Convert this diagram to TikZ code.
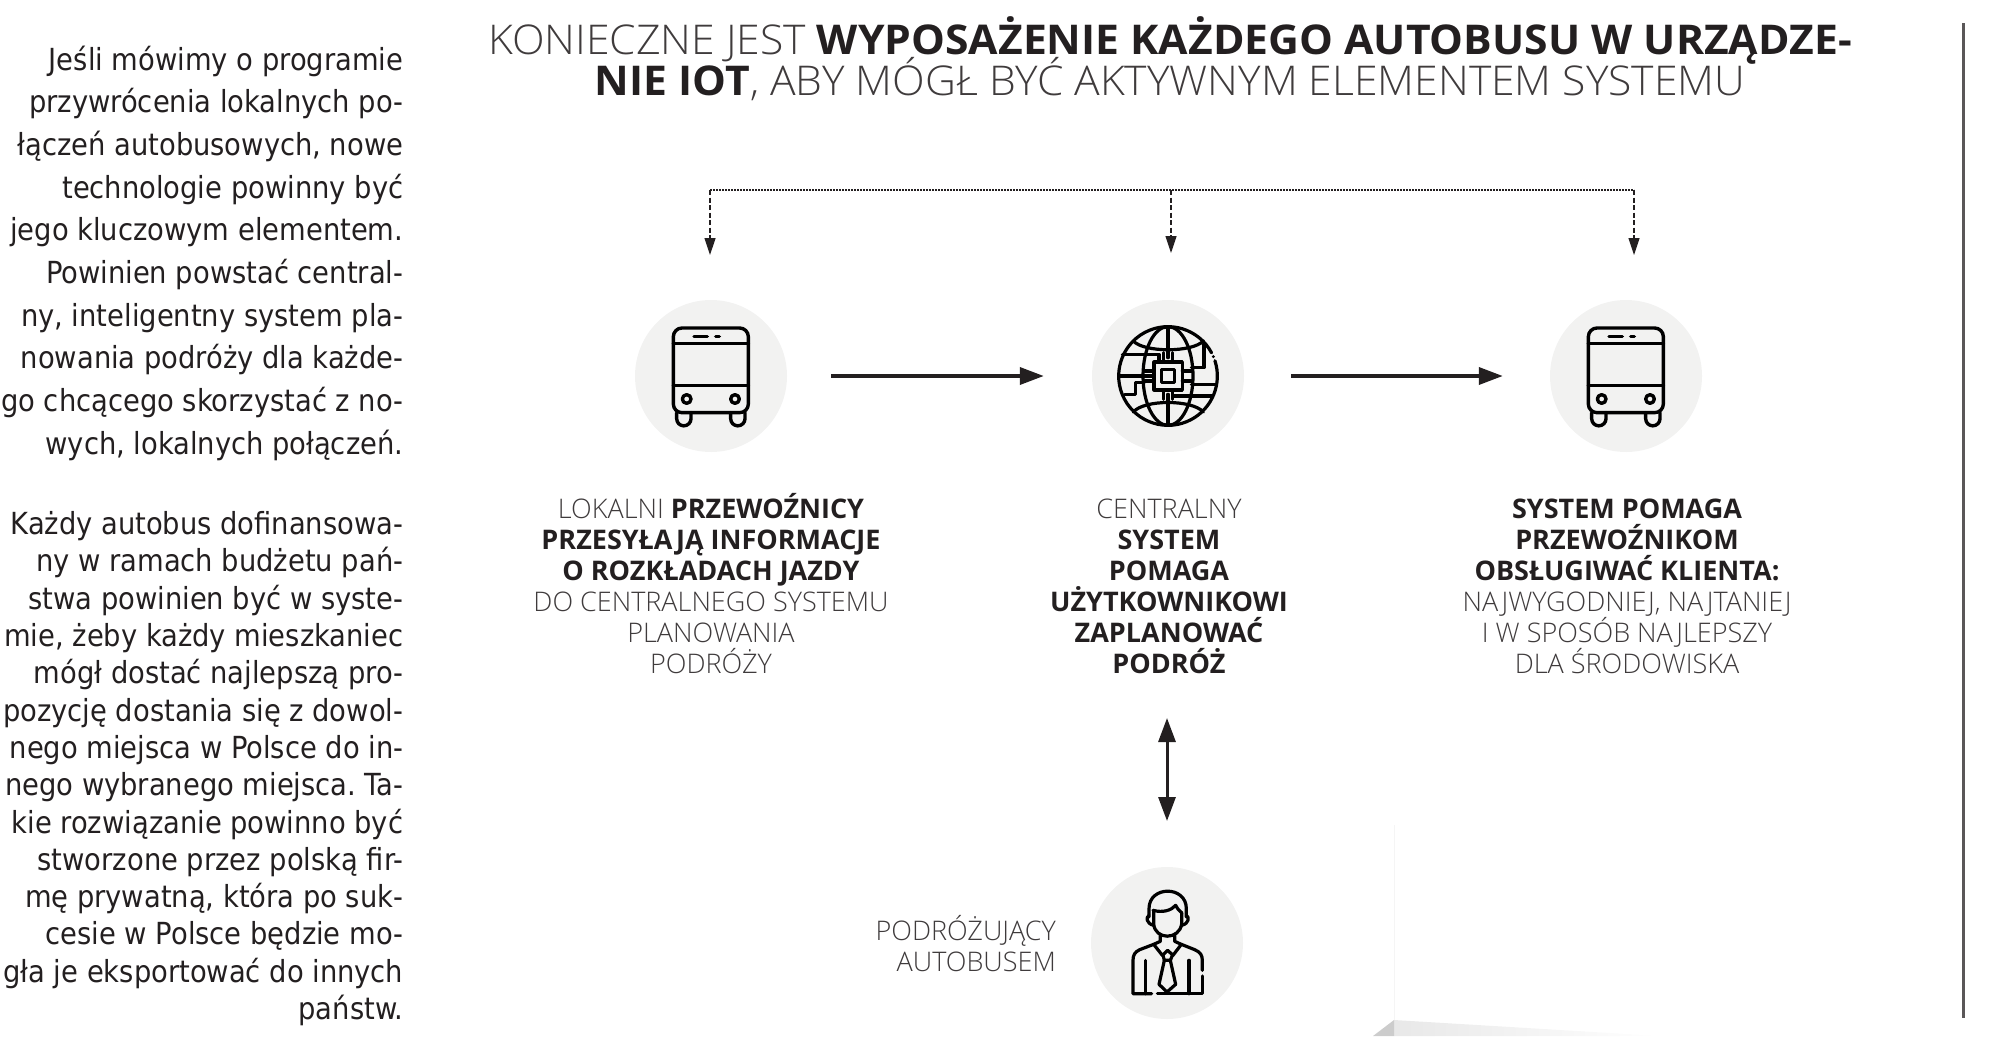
\documentclass[tikz,border=0pt]{standalone}
\usepackage{fontspec}
\usepackage{graphicx}
\usetikzlibrary{arrows.meta}
\setmainfont{Open Sans}
\newfontfamily\oslight{Open Sans Light}
\newfontfamily\djv{DejaVu Sans Condensed}
\definecolor{ink}{HTML}{231F20}
\definecolor{lighttext}{HTML}{3F3B3C}
\definecolor{disc}{HTML}{F2F2F1}
\frenchspacing
\tikzset{
  discnode/.style={circle,fill=disc,minimum size=152pt,inner sep=0pt},
  body/.style={font=\djv\fontsize{30.4}{30.4}\selectfont,text=ink,anchor=base east,inner sep=0pt},
  lab/.style={font=\fontsize{27}{27}\selectfont,text=ink,anchor=base,inner sep=0pt},
  ttl/.style={font=\fontsize{41}{41}\selectfont,text=ink,anchor=base,inner sep=0pt},
  flow/.style={draw=ink,line width=3.6pt,-{Triangle[length=24pt,width=17pt]}},
  dashv/.style={draw=ink,line width=1.2pt,dash pattern=on 5pt off 2.5pt,-{Triangle[length=17pt,width=11pt]}},
  dashh/.style={draw=ink,line width=1.5pt,dash pattern=on 2pt off 1pt},
  icon/.style={draw=black,line width=3.4pt,line cap=round,line join=round},
  iconthin/.style={draw=black,line width=3.2pt,line cap=round,line join=round},
}
\newcommand{\lt}[1]{{\oslight\color{lighttext} #1}}
\newcommand{\bd}[1]{{\bfseries #1}}
\newcommand{\busicon}[1]{%
\begin{scope}[shift={(#1.center)},x=.33333pt,y=-.33333pt,shift={(-378,-288)}]
  \draw[icon] (265,170) arc[start angle=180,end angle=270,radius=26] -- (464,144) arc[start angle=270,end angle=360,radius=26]
     -- (490,372) arc[start angle=0,end angle=90,radius=26] -- (291,398) arc[start angle=90,end angle=180,radius=26] -- cycle;
  \draw[icon] (265,191) -- (490,191);
  \draw[icon] (265,316) -- (490,316);
  \draw[icon] (327,170) -- (367,170);
  \draw[icon] (392,170) -- (403,170);
  \draw[icon] (305,357) circle[radius=13];
  \draw[icon] (450,357) circle[radius=13];
  \draw[icon] (275,398) -- (275,416) arc[start angle=180,end angle=0,radius=21.5] -- (318,398);
  \draw[icon] (437,398) -- (437,416) arc[start angle=180,end angle=0,radius=21.5] -- (480,398);
\end{scope}}
\begin{document}
\begin{tikzpicture}[x=1pt,y=-1pt]
\useasboundingbox (0,0) rectangle (1999,1036);
% faint page artefacts
\draw[draw=black!4,line width=.8pt] (1394,825) -- (1394,1020);
\shade[left color=black!9,right color=white] (1394,1020) -- (1660,1036) -- (1394,1036) -- cycle;
\fill[black!20] (1394,1020) -- (1394,1036) -- (1373,1036) -- cycle;
\fill[ink!75] (1962,23) rectangle (1964.6,1018);
% title
\node[ttl] (t1) at (1170,54) {\scalebox{1.04}[1]{\lt{KONIECZNE JEST }\bd{WYPOSAŻENIE KAŻDEGO AUTOBUSU W URZĄDZE-}}};
\node[ttl] (t2) at (1170,95) {\scalebox{1.04}[1]{\bd{NIE IOT}\lt{, ABY MÓGŁ BYĆ AKTYWNYM ELEMENTEM SYSTEMU}}};
% body text
\foreach \y/\s in {70/{Jeśli mówimy o programie},112.7/{przywrócenia lokalnych po-},155.4/{łączeń autobusowych, nowe},198.1/{technologie powinny być},240.8/{jego kluczowym elementem.},283.5/{Powinien powstać central-},326.2/{ny, inteligentny system pla-},368.9/{nowania podróży dla każde-},411.6/{go chcącego skorzystać z no-},454.3/{wych, lokalnych połączeń.}}
  \node[body] at (403.5,\y) {\s};
\foreach \y/\s in {534.6/{Każdy autobus dofinansowa-},571.9/{ny w ramach budżetu pań-},609.2/{stwa powinien być w syste-},646.5/{mie, żeby każdy mieszkaniec},683.8/{mógł dostać najlepszą pro-},721.1/{pozycję dostania się z dowol-},758.4/{nego miejsca w Polsce do in-},795.7/{nego wybranego miejsca. Ta-},833/{kie rozwiązanie powinno być},870.3/{stworzone przez polską fir-},907.6/{mę prywatną, która po suk-},944.9/{cesie w Polsce będzie mo-},982.2/{gła je eksportować do innych},1019.5/{państw.}}
  \node[body] at (403.5,\y) {\s};
% discs
\node[discnode] (c1) at (711,376) {};
\node[discnode] (c2) at (1168,376) {};
\node[discnode] (c3) at (1626,376) {};
\node[discnode] (c4) at (1167,943) {};
% connectors
\draw[flow,shorten <=44pt,shorten >=48pt] (c1) -- (c2);
\draw[flow,shorten <=47pt,shorten >=47pt] (c2) -- (c3);
\coordinate (dl) at (710,190);
\coordinate (dm) at (1171,190);
\coordinate (dr) at (1634,190);
\coordinate (tl) at (710,255);
\coordinate (tm) at (1171,253);
\coordinate (tr) at (1634,255);
\draw[dashh] (dl) -- (dr);
\draw[dashv] (dl) -- (tl);
\draw[dashv] (dm) -- (tm);
\draw[dashv] (dr) -- (tr);
\coordinate (ua) at (1167,718);
\coordinate (ub) at (1167,821);
\draw[draw=ink,line width=3pt,{Triangle[length=24pt,width=17pt]}-{Triangle[length=24pt,width=17pt]}] (ua) -- (ub);
% icons
\busicon{c1}
\busicon{c3}
\begin{scope}[shift={(c2.center)},x=.33333pt,y=-.33333pt,shift={(-192,-180)}]
  \draw[iconthin] (322.7,110.5) arc[start angle=-28,end angle=-378,radius=148];
  \fill[black] (328,122) circle[radius=5];
  \draw[iconthin] (192,32) -- (192,125); \draw[iconthin] (192,235) -- (192,328);
  \draw[iconthin] (192,32) arc[start angle=270,end angle=90,x radius=75,y radius=148];
  \draw[iconthin] (192,32) arc[start angle=-90,end angle=90,x radius=75,y radius=148];
  \draw[iconthin] (88,75) .. controls (120,110) and (264,110) .. (298,75);
  \draw[iconthin] (88,288) .. controls (120,250) and (264,250) .. (298,288);
  \draw[iconthin] (150,138) rectangle (235,222);
  \draw[iconthin] (172,160) rectangle (212,200);
  \draw[iconthin] (150,165) -- (122,165) (150,195) -- (122,195) (235,165) -- (262,165) (235,195) -- (262,195);
  \draw[iconthin] (178,138) -- (178,110) (206,138) -- (206,110) (178,222) -- (178,250) (206,222) -- (206,250);
  \draw[iconthin] (55,115) -- (165,115) -- (165,138);
  \draw[iconthin] (46,180) -- (150,180);
  \draw[iconthin] (62,235) -- (95,235) -- (95,200) -- (122,200);
  \draw[iconthin] (300,85) -- (300,155) -- (262,155);
  \draw[iconthin] (336,205) -- (262,205);
  \draw[iconthin] (206,240) -- (322,240);
\end{scope}
\begin{scope}[shift={(c4.center)},x=.33333pt,y=-.33333pt,shift={(-262,-248)}]
  \draw[iconthin] (208,170) -- (208,145) .. controls (208,75) and (320,75) .. (320,145) -- (320,170);
  \draw[iconthin] (220,150) .. controls (250,158) and (275,150) .. (288,135) .. controls (295,150) and (305,155) .. (307,158);
  \draw[iconthin] (222,150) -- (222,190) .. controls (225,240) and (300,240) .. (306,190) -- (306,158);
  \draw[iconthin] (208,165) .. controls (198,170) and (200,190) .. (222,195);
  \draw[iconthin] (320,165) .. controls (330,170) and (328,190) .. (306,195);
  \draw[iconthin] (242,225) -- (242,243) -- (222,252) -- (248,285) -- (264,270) -- (280,285) -- (305,252) -- (285,243) -- (285,225);
  \draw[iconthin] (222,252) -- (180,268) .. controls (165,275) and (160,285) .. (160,300) -- (160,400) -- (216,400);
  \draw[iconthin] (305,252) -- (345,268) .. controls (362,275) and (368,285) .. (368,300) -- (368,330);
  \draw[iconthin] (368,347) -- (368,400) -- (233,400);
  \draw[iconthin] (198,300) -- (198,400) (328,300) -- (328,400);
  \draw[iconthin] (250,285) -- (254,300) -- (272,300) -- (278,285);
  \draw[iconthin] (254,300) -- (238,372) -- (262,395) -- (288,372) -- (272,300);
\end{scope}
% labels
\foreach \y/\s in {518/{\lt{LOKALNI }\bd{PRZEWOŹNICY}},549/{\bd{PRZESYŁAJĄ INFORMACJE}},580/{\bd{O ROZKŁADACH JAZDY}},611/{\lt{DO CENTRALNEGO SYSTEMU}},642/{\lt{PLANOWANIA}},673/{\lt{PODRÓŻY}}}
  \node[lab] at (711,\y) {\s};
\foreach \y/\s in {518/{\lt{CENTRALNY}},549/{\bd{SYSTEM}},580/{\bd{POMAGA}},611/{\bd{UŻYTKOWNIKOWI}},642/{\bd{ZAPLANOWAĆ}},673/{\bd{PODRÓŻ}}}
  \node[lab] at (1169,\y) {\s};
\foreach \y/\s in {518/{\bd{SYSTEM POMAGA}},549/{\bd{PRZEWOŹNIKOM}},580/{\bd{OBSŁUGIWAĆ KLIENTA:}},611/{\lt{NAJWYGODNIEJ, NAJTANIEJ}},642/{\lt{I W SPOSÓB NAJLEPSZY}},673/{\lt{DLA ŚRODOWISKA}}}
  \node[lab] at (1627,\y) {\s};
\node[lab,anchor=base east] at (1056,940) {\lt{PODRÓŻUJĄCY}};
\node[lab,anchor=base east] at (1056,971) {\lt{AUTOBUSEM}};
\end{tikzpicture}
\end{document}
